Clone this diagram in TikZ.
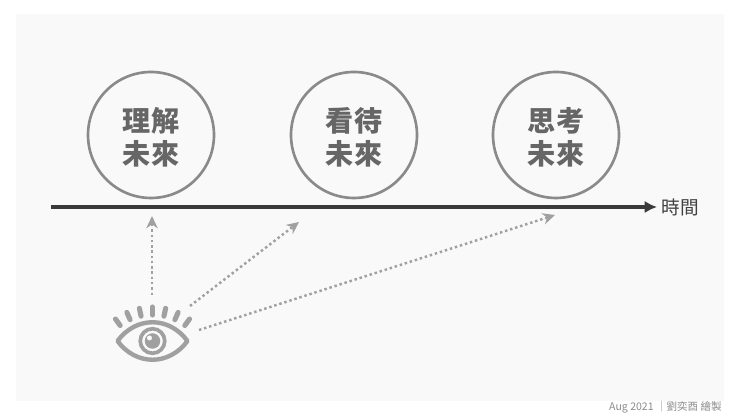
\documentclass[tikz,border=0pt]{standalone}
\usepackage{fontspec}
\setmainfont{Noto Sans CJK TC}
\usetikzlibrary{arrows.meta,calc}
\definecolor{panelgray}{HTML}{F9F9F9}
\definecolor{ringgray}{HTML}{8A8A8A}
\definecolor{wordgray}{HTML}{666666}
\definecolor{eyegray}{HTML}{A0A0A0}
\definecolor{axisgray}{HTML}{3A3A3A}
\tikzset{axe/.style={
    -{Latex[length=7pt,width=7pt]},
    line width=1.8pt,
    axisgray}}
\tikzset{vue/.style={
    -{Stealth[length=7pt,width=6.5pt]},
    line width=1.4pt,
    eyegray,
    dash pattern=on 1.4pt off 1.6pt}}
\tikzset{futur/.style={
    circle,
    draw=ringgray,
    line width=1.5pt,
    minimum size=2.52cm,
    inner sep=0pt,
    align=center,
    text=wordgray,
    text height=34.6pt,
    font=\bfseries\fontsize{16pt}{18.7pt}\selectfont}}
\tikzset{cil/.style={
    eyegray,
    line width=2.9pt,
    line cap=round}}

\begin{document}
\begin{tikzpicture}
  % fond
  \useasboundingbox (0,0) rectangle (14.8,8.32);
  \fill[white] (0,0) rectangle (14.8,8.32);
  \fill[panelgray] (0.32,0.3) rectangle (14.48,8.04);

  % axe du temps
  \coordinate (debut) at (1.02,4.18);
  \coordinate (fin) at (13.14,4.18);
  \draw[axe] (debut) -- (fin);
  \node[anchor=west,inner sep=0pt,text=black!75,font=\fontsize{10.6pt}{12pt}\selectfont] (temps) at (13.23,4.18) {時間};

  % cercles
  \node[futur] (comprendre) at (3.02,5.62) {理解\\未來};
  \node[futur] (regarder) at (7.08,5.62) {看待\\未來};
  \node[futur] (penser) at (11.12,5.62) {思考\\未來};

  % oeil
  \coordinate (O) at (3.05,1.5);
  \coordinate (F) at (3.05,0.92);
  \draw[eyegray,line width=2.5pt,line join=round]
    (2.35,1.5) .. controls (2.72,2.0) and (3.38,2.0) .. (3.75,1.5)
    .. controls (3.38,1.0) and (2.72,1.0) .. cycle;
  \draw[eyegray,line width=2.1pt] (O) circle (0.245);
  \fill[eyegray] (O) circle (0.155);
  \fill[panelgray] (2.99,1.56) circle (0.05);
  \foreach \a in {54,66,78,90,102,114,126}
    \draw[cil] ($(F)+(\a:1.1)$) -- ($(F)+(\a:1.26)$);

  % regards
  \coordinate (v1) at (3.04,2.42);
  \coordinate (v2) at (3.8,2.2);
  \coordinate (v3) at (3.98,1.72);
  \coordinate (c1) at (3.04,4.0);
  \coordinate (c2) at (5.98,3.88);
  \coordinate (c3) at (11.1,4.02);
  \draw[vue] (v1) -- (c1);
  \draw[vue] (v2) -- (c2);
  \draw[vue] (v3) -- (c3);

  % signature
  \node[anchor=east,inner sep=0pt,text=black!45,font=\fontsize{6pt}{8pt}\selectfont] (signature) at (14.44,0.17) {Aug 2021 ｜劉奕酉 繪製};
\end{tikzpicture}
\end{document}
